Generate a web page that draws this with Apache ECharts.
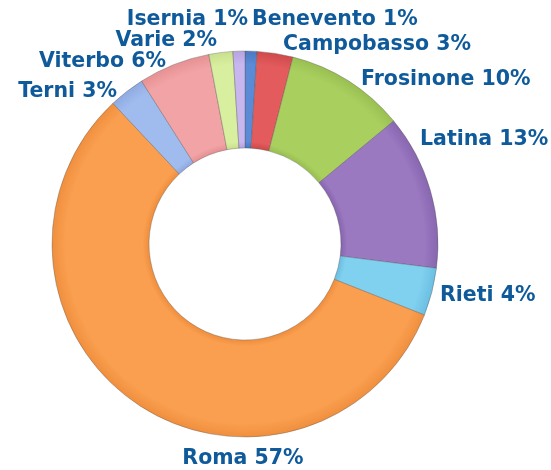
<!DOCTYPE html>
<html>
<head>
<meta charset="utf-8">
<script src="https://cdn.jsdelivr.net/npm/echarts@6/dist/echarts.min.js"></script>
<style>
html,body{margin:0;padding:0;background:#fff;}
#chart{width:551px;height:470px;}
</style>
</head>
<body>
<div id="chart"></div>
<script>
// Data
var categories = ['Benevento', 'Campobasso', 'Frosinone', 'Latina', 'Rieti', 'Roma', 'Terni', 'Viterbo', 'Varie', 'Isernia'];
var values = [1, 3, 10, 13, 4, 57, 3, 6, 2, 1];

// Styles (kept separate from data)
var colorsBase = ['#5b8ad6', '#e35b5c', '#a9d05f', '#9a79c1', '#80d0ef', '#f99f4f', '#a0bcef', '#f2a3a5', '#d9efa0', '#c8b6ee'];
var colorsDark = ['#4a78c2', '#cf4a4c', '#98bf50', '#8866b0', '#6cbfe2', '#f08f3e', '#8eaae0', '#e69194', '#c8e08c', '#b6a3e0'];
var labelAnchors = [
  [252, 20, 'left'],
  [283, 45, 'left'],
  [361, 80, 'left'],
  [420, 140, 'left'],
  [440, 296, 'left'],
  [243, 459, 'center'],
  [117, 92, 'right'],
  [166, 62, 'right'],
  [217, 41, 'right'],
  [248, 20, 'right']
];
var cx = 245, cy = 244, rIn = 96, rOut = 193;

var chart = echarts.init(document.getElementById('chart'), null, {renderer: 'canvas'});
var data = categories.map(function (c, i) {
  return {
    name: c, value: values[i],
    itemStyle: {
      color: {
        type: 'radial', x: cx, y: cy, r: rOut, global: true,
        colorStops: [
          {offset: 0.5, color: colorsDark[i]},
          {offset: 0.53, color: colorsBase[i]},
          {offset: 0.93, color: colorsBase[i]},
          {offset: 1, color: colorsDark[i]}
        ]
      }
    }
  };
});
chart.setOption({
  animation: false,
  backgroundColor: '#ffffff',
  series: [{
    type: 'pie',
    center: [cx, cy],
    radius: [rIn, rOut],
    startAngle: 90,
    clockwise: true,
    avoidLabelOverlap: false,
    data: data,
    itemStyle: {borderColor: 'rgba(80,80,80,0.35)', borderWidth: 1},
    label: {
      show: true,
      position: 'outside',
      formatter: function (p) { return p.name + ' ' + p.value + '%'; },
      color: '#0f5a9a',
      fontFamily: 'DejaVu Sans',
      fontWeight: 'bold',
      fontSize: 20.5
    },
    labelLine: {show: false},
    labelLayout: function (p) {
      var a = labelAnchors[p.dataIndex];
      return {x: a[0], y: a[1], align: a[2], verticalAlign: 'middle'};
    },
    emphasis: {disabled: true}
  }]
});
</script>
</body>
</html>
